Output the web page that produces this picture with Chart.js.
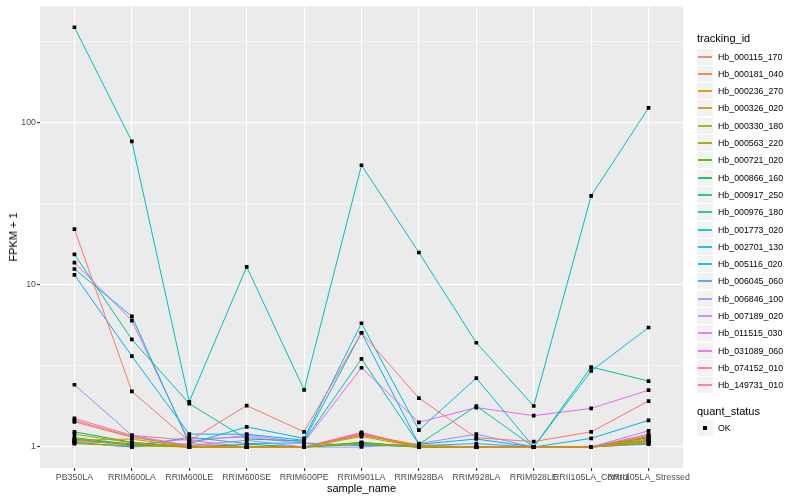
<!DOCTYPE html>
<html>
<head>
<meta charset="utf-8">
<script src="https://cdn.jsdelivr.net/npm/chart.js@4"></script>
<style>
  html, body { margin: 0; padding: 0; background: #ffffff; }
  #wrap { position: relative; width: 800px; height: 500px; font-family: "Liberation Sans", Arial, Helvetica, sans-serif; }
  canvas { position: absolute; left: 0; top: 0; }
  .ltitle { position: absolute; left: 697px; font-size: 11px; white-space: nowrap; color: #000; }
  .lrow { position: absolute; left: 697px; height: 17px; width: 100px; }
  .lkey { position: absolute; left: 0; top: 0; width: 16px; height: 16px; background: #F2F2F2; }
  .lline { position: absolute; left: 1px; top: 7px; width: 14px; height: 2px; opacity: 0.85; }
  .lpt { position: absolute; left: 6px; top: 6px; width: 4px; height: 4px; background: #000; }
  .ltext { position: absolute; left: 21px; top: 2px; font-size: 8.8px; line-height: 12px; white-space: nowrap; color: #000; }
  .ytitle { position: absolute; left: 13px; top: 237px; transform: translate(-50%, -50%) rotate(-90deg); font-size: 11px; white-space: nowrap; color: #000; }
</style>
</head>
<body>
<div id="wrap">
  <canvas id="c" width="800" height="500"></canvas>
  <div class="ytitle">FPKM + 1</div>
  <div id="legend"></div>
</div>
<script>
const categories = ["PB350LA","RRIM600LA","RRIM600LE","RRIM600SE","RRIM600PE","RRIM901LA","RRIM928BA","RRIM928LA","RRIM928LE","RRII105LA_Control","RRII105LA_Stressed"];
const seriesNames = ["Hb_000115_170","Hb_000181_040","Hb_000236_270","Hb_000326_020","Hb_000330_180","Hb_000563_220","Hb_000721_020","Hb_000866_160","Hb_000917_250","Hb_000976_180","Hb_001773_020","Hb_002701_130","Hb_005116_020","Hb_006045_060","Hb_006846_100","Hb_007189_020","Hb_011515_030","Hb_031089_060","Hb_074152_010","Hb_149731_010"];
const seriesColors = ["#F8766D","#EA8331","#D89000","#C09B00","#A3A500","#7CAE00","#39B600","#00BB4E","#00BF7D","#00C1A3","#00BFC4","#00BAE0","#00B0F6","#35A2FF","#9590FF","#C77CFF","#E76BF3","#FA62DB","#FF62BC","#FF6C91"];

const Hb_000115_170 = [22, 2.2, 1.09, 1.8, 1.24, 5.06, 2.0, 1.14, 1.08, 1.24, 1.92];
const Hb_000181_040 = [1.43, 1.15, 1.02, 1.0, 1.0, 1.2, 1.03, 1.0, 1.0, 1.0, 1.16];
const Hb_000236_270 = [1.1, 1.12, 1.0, 1.0, 1.0, 1.18, 1.02, 1.0, 1.0, 1.0, 1.12];
const Hb_000326_020 = [1.08, 1.05, 1.0, 1.0, 1.0, 1.16, 1.0, 1.0, 1.0, 1.0, 1.08];
const Hb_000330_180 = [1.2, 1.06, 1.0, 1.0, 1.0, 1.05, 1.0, 1.0, 1.0, 1.0, 1.06];
const Hb_000563_220 = [1.05, 1.02, 1.0, 1.0, 1.0, 1.06, 1.0, 1.0, 1.0, 1.0, 1.1];
const Hb_000721_020 = [1.12, 1.03, 1.0, 1.0, 1.0, 1.07, 1.0, 1.0, 1.0, 1.0, 1.14];
const Hb_000866_160 = [1.24, 1.07, 1.0, 1.04, 1.0, 1.06, 1.0, 1.0, 1.0, 1.0, 1.15];
const Hb_000917_250 = [1.14, 1.04, 1.0, 1.0, 1.0, 1.04, 1.0, 1.0, 1.0, 1.0, 1.05];
const Hb_000976_180 = [15.4, 4.6, 1.85, 1.12, 1.09, 3.49, 1.04, 1.79, 1.0, 3.11, 2.55];
const Hb_001773_020 = [386, 76.4, 1.9, 12.9, 2.25, 54.5, 15.8, 4.39, 1.79, 35.3, 123];
const Hb_002701_130 = [12.5, 6.39, 1.05, 1.33, 1.13, 5.79, 1.27, 2.66, 1.0, 2.94, 5.45];
const Hb_005116_020 = [11.5, 3.63, 1.2, 1.2, 1.1, 5.06, 1.04, 1.12, 1.0, 1.13, 1.46];
const Hb_006045_060 = [1.07, 1.0, 1.15, 1.05, 1.06, 1.02, 1.02, 1.05, 1.0, 1.0, 1.08];
const Hb_006846_100 = [2.42, 1.18, 1.02, 1.1, 1.0, 1.0, 1.05, 1.2, 1.0, 1.0, 1.26];
const Hb_007189_020 = [1.1, 1.03, 1.12, 1.15, 1.05, 1.03, 1.0, 1.0, 1.0, 1.0, 1.04];
const Hb_011515_030 = [13.7, 6.01, 1.08, 1.18, 1.07, 3.08, 1.42, 1.75, 1.56, 1.73, 2.24];
const Hb_031089_060 = [1.06, 1.0, 1.05, 1.0, 1.0, 1.22, 1.0, 1.0, 1.0, 1.0, 1.1];
const Hb_074152_010 = [1.46, 1.16, 1.0, 1.0, 1.0, 1.2, 1.0, 1.0, 1.0, 1.0, 1.18];
const Hb_149731_010 = [1.5, 1.18, 1.1, 1.0, 1.0, 1.23, 1.0, 1.0, 1.0, 1.0, 1.2];

const seriesValues = [Hb_000115_170, Hb_000181_040, Hb_000236_270, Hb_000326_020, Hb_000330_180, Hb_000563_220, Hb_000721_020, Hb_000866_160, Hb_000917_250, Hb_000976_180, Hb_001773_020, Hb_002701_130, Hb_005116_020, Hb_006045_060, Hb_006846_100, Hb_007189_020, Hb_011515_030, Hb_031089_060, Hb_074152_010, Hb_149731_010];

const majorTicks = [1, 10, 100];
const quantStatus = ["OK"];

// axis range like ggplot: 5% expansion of log range
const allVals = seriesValues.flat();
const lmin = Math.log10(Math.min(...allVals)), lmax = Math.log10(Math.max(...allVals));
const lr = lmax - lmin;
const yMin = Math.pow(10, lmin - 0.05 * lr), yMax = Math.pow(10, lmax + 0.05 * lr);

const lineSets = seriesValues.map((vals, i) => ({
  type: 'line',
  label: seriesNames[i],
  data: vals.map((v, j) => ({x: j, y: v})),
  borderColor: seriesColors[i],
  borderWidth: 1,
  pointRadius: 0,
  fill: false,
  tension: 0,
  order: 2
}));
const pointSets = seriesValues.map((vals, i) => ({
  type: 'line',
  label: seriesNames[i] + ' pts',
  data: vals.map((v, j) => ({x: j, y: v})),
  showLine: false,
  pointStyle: 'rect',
  pointRadius: 2.6,
  pointBackgroundColor: '#000',
  pointBorderWidth: 0,
  order: 1
}));

const panelBg = {
  id: 'panelBg',
  beforeDraw(chart) {
    const {ctx, chartArea: a} = chart;
    ctx.save();
    ctx.fillStyle = '#EBEBEB';
    ctx.fillRect(a.left, a.top, a.right - a.left, a.bottom - a.top);
    ctx.restore();
  }
};

const fontFam = '"Liberation Sans", Arial, Helvetica, sans-serif';

new Chart(document.getElementById('c'), {
  type: 'line',
  data: { datasets: [...lineSets, ...pointSets] },
  options: {
    responsive: false,
    animation: false,
    devicePixelRatio: 1,
    layout: { padding: { left: 0, top: 6, right: 117, bottom: 0 } },
    plugins: { legend: { display: false }, tooltip: { enabled: false } },
    scales: {
      x: {
        type: 'linear',
        min: -0.6,
        max: categories.length - 1 + 0.6,
        bounds: 'data',
        afterBuildTicks(scale) { scale.ticks = categories.map((c, i) => ({value: i})); },
        afterFit(scale) { scale.height = 32; },
        border: { display: false },
        grid: { color: '#FFFFFF', lineWidth: 1.1, tickColor: '#333333', tickLength: 3, drawTicks: true },
        ticks: {
          autoSkip: false, maxRotation: 0, minRotation: 0, padding: 1,
          color: '#4D4D4D', font: { family: fontFam, size: 8.8 },
          callback: (v) => categories[v]
        },
        title: { display: true, text: 'sample_name', color: '#000', font: { family: fontFam, size: 11 }, padding: { top: 0, bottom: 4 } }
      },
      y: {
        type: 'logarithmic',
        min: yMin,
        max: yMax,
        bounds: 'data',
        afterBuildTicks(scale) {
          const t = [];
          majorTicks.forEach(m => { t.push({value: m, major: true}); t.push({value: m * Math.sqrt(10), major: false}); });
          scale.ticks = t.filter(o => o.value >= yMin && o.value <= yMax);
        },
        afterFit(scale) { scale.width = 40; },
        border: { display: false },
        grid: {
          color: '#FFFFFF',
          lineWidth: (ctx) => (ctx.tick && majorTicks.includes(ctx.tick.value)) ? 1.1 : 0.5,
          tickColor: (ctx) => (ctx.tick && majorTicks.includes(ctx.tick.value)) ? '#333333' : 'rgba(0,0,0,0)',
          tickLength: 3, drawTicks: true
        },
        ticks: {
          autoSkip: false, padding: 1,
          color: '#4D4D4D', font: { family: fontFam, size: 8.8 },
          callback: (v) => majorTicks.includes(v) ? String(v) : ''
        }
      }
    }
  },
  plugins: [panelBg]
});

// ggplot-style legends (HTML)
const leg = document.getElementById('legend');
let html = '<div class="ltitle" style="top:32px">tracking_id</div>';
seriesNames.forEach((n, i) => {
  const top = Math.round(48.5 + i * 17.3);
  html += `<div class="lrow" style="top:${top}px"><div class="lkey"><div class="lline" style="background:${seriesColors[i]}"></div></div><div class="ltext">${n}</div></div>`;
});
html += '<div class="ltitle" style="top:405px">quant_status</div>';
quantStatus.forEach((q, i) => {
  html += `<div class="lrow" style="top:${Math.round(420 + i * 17.3)}px"><div class="lkey"><div class="lpt"></div></div><div class="ltext">${q}</div></div>`;
});
leg.innerHTML = html;
</script>
</body>
</html>
